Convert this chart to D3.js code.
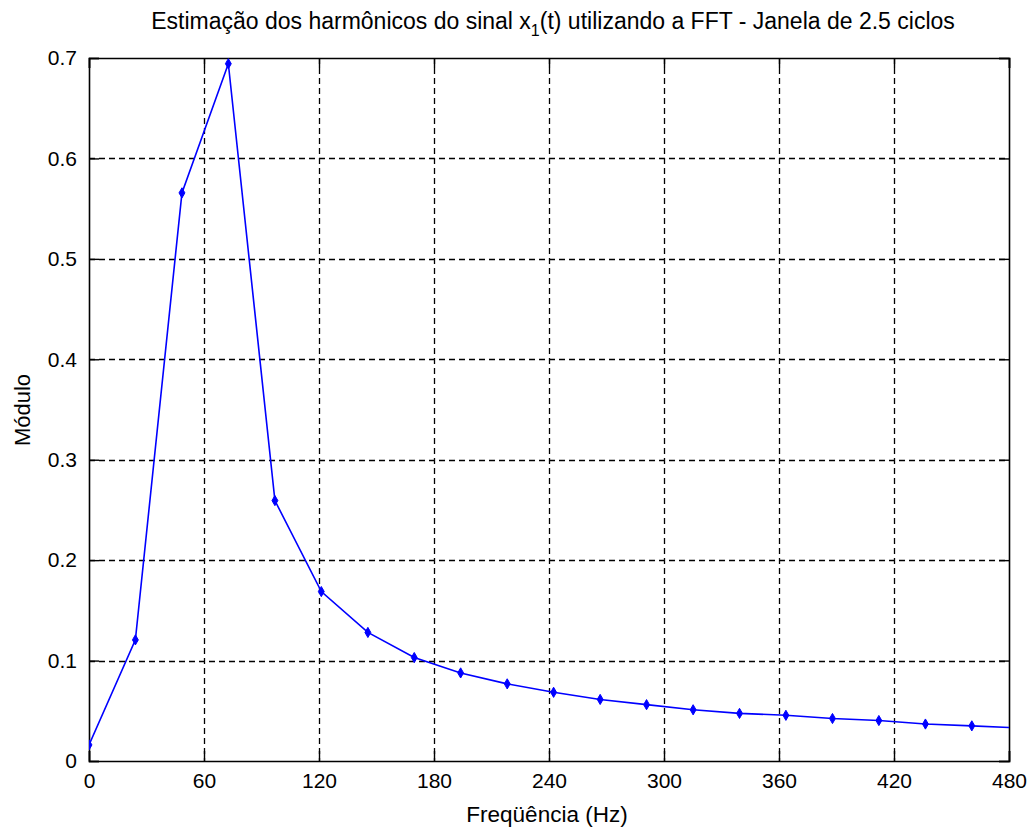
<!DOCTYPE html>
<html>
<head>
<meta charset="utf-8">
<script src="https://cdn.jsdelivr.net/npm/d3@7"></script>
<style>
  html, body { margin: 0; padding: 0; background: #fff; }
  svg text { font-family: "Liberation Sans", Arial, sans-serif; fill: #000; }
</style>
</head>
<body>
<svg id="chart" width="1032" height="827"></svg>
<script>
// FFT bins (Hz) and estimated magnitude for each bin
const freqs = [0, 24.2, 48.5, 72.7, 97.0, 121.2, 145.5, 169.7, 193.9, 218.2, 242.4,
               266.7, 290.9, 315.2, 339.4, 363.6, 387.9, 412.1, 436.4, 460.6, 484.8];
const modulus = [0.016, 0.1206, 0.5657, 0.6943, 0.2593, 0.1687, 0.1280, 0.1030, 0.0877,
                 0.0768, 0.0684, 0.0613, 0.0561, 0.0510, 0.0474, 0.0455, 0.0423, 0.0403,
                 0.0368, 0.0350, 0.0330];
const xTicks = [0, 60, 120, 180, 240, 300, 360, 420, 480];
const yTicks = [0, 0.1, 0.2, 0.3, 0.4, 0.5, 0.6, 0.7];
const titleMain = "Estimação dos harmônicos do sinal x";
const titleSub = "1";
const titleRest = "(t) utilizando a FFT - Janela de 2.5 ciclos";
const xLabel = "Freqüência (Hz)";
const yLabel = "Módulo";

const svg = d3.select("#chart");
const m = { left: 89, right: 1009, top: 58, bottom: 761 };

const x = d3.scaleLinear().domain([0, 480]).range([m.left, m.right]);
const y = d3.scaleLinear().domain([0, 0.7]).range([m.bottom, m.top]);

svg.append("rect").attr("width", 1032).attr("height", 827).attr("fill", "#fff");

// dashed grid
const grid = svg.append("g").attr("stroke", "#000").attr("stroke-width", 1.3)
  .attr("stroke-dasharray", "6,4").attr("fill", "none");
xTicks.slice(1, -1).forEach(t => {
  grid.append("line").attr("x1", Math.round(x(t)) + 0.5).attr("x2", Math.round(x(t)) + 0.5)
    .attr("y1", m.top).attr("y2", m.bottom);
});
yTicks.slice(1, -1).forEach(t => {
  grid.append("line").attr("y1", Math.round(y(t)) + 0.5).attr("y2", Math.round(y(t)) + 0.5)
    .attr("x1", m.left).attr("x2", m.right);
});

// axes with inward ticks on all four sides
const tickLen = 10;
const fmtY = d => d === 0 ? "0" : d3.format(".1f")(d);
const axBottom = svg.append("g").attr("transform", `translate(0,${m.bottom})`)
  .call(d3.axisBottom(x).tickValues(xTicks).tickSize(-tickLen).tickPadding(12));
const axTop = svg.append("g").attr("transform", `translate(0,${m.top})`)
  .call(d3.axisTop(x).tickValues(xTicks).tickSize(-tickLen).tickFormat(""));
const axLeft = svg.append("g").attr("transform", `translate(${m.left},0)`)
  .call(d3.axisLeft(y).tickValues(yTicks).tickSize(-tickLen).tickPadding(12).tickFormat(fmtY));
const axRight = svg.append("g").attr("transform", `translate(${m.right},0)`)
  .call(d3.axisRight(y).tickValues(yTicks).tickSize(-tickLen).tickFormat(""));
[axBottom, axTop, axLeft, axRight].forEach(a => {
  a.selectAll("path.domain").attr("stroke", "#000").attr("stroke-width", 1.6);
  a.selectAll(".tick line").attr("stroke", "#000").attr("stroke-width", 1.4);
  a.selectAll("text").attr("font-size", 21).attr("fill", "#000")
    .style("font-family", "'Liberation Sans', Arial, sans-serif");
});

// data curve, clipped to the plot box
svg.append("clipPath").attr("id", "plotClip").append("rect")
  .attr("x", m.left).attr("y", m.top).attr("width", m.right - m.left).attr("height", m.bottom - m.top);
const pts = freqs.map((f, i) => [f, modulus[i]]);
const plot = svg.append("g").attr("clip-path", "url(#plotClip)");
plot.append("path").datum(pts)
  .attr("fill", "none").attr("stroke", "#0000ff").attr("stroke-width", 1.6)
  .attr("d", d3.line().x(d => x(d[0])).y(d => y(d[1])));
const sym = d3.symbol().type(d3.symbolDiamond).size(30);
plot.selectAll("path.mk").data(pts).join("path").attr("class", "mk")
  .attr("transform", d => `translate(${x(d[0])},${y(d[1])})`)
  .attr("d", sym).attr("fill", "#0000ff").attr("stroke", "#0000ff").attr("stroke-width", 1);

// title with subscript
const title = svg.append("text").attr("x", 553).attr("y", 29).attr("text-anchor", "middle")
  .attr("font-size", 23);
title.append("tspan").text(titleMain);
title.append("tspan").attr("dy", 7).attr("font-size", 16).text(titleSub);
title.append("tspan").attr("dy", -7).text(titleRest);

svg.append("text").attr("x", 547).attr("y", 822).attr("text-anchor", "middle")
  .attr("font-size", 22.5).text(xLabel);
svg.append("text").attr("transform", `translate(30,410) rotate(-90)`)
  .attr("text-anchor", "middle").attr("font-size", 22).text(yLabel);
</script>
</body>
</html>
